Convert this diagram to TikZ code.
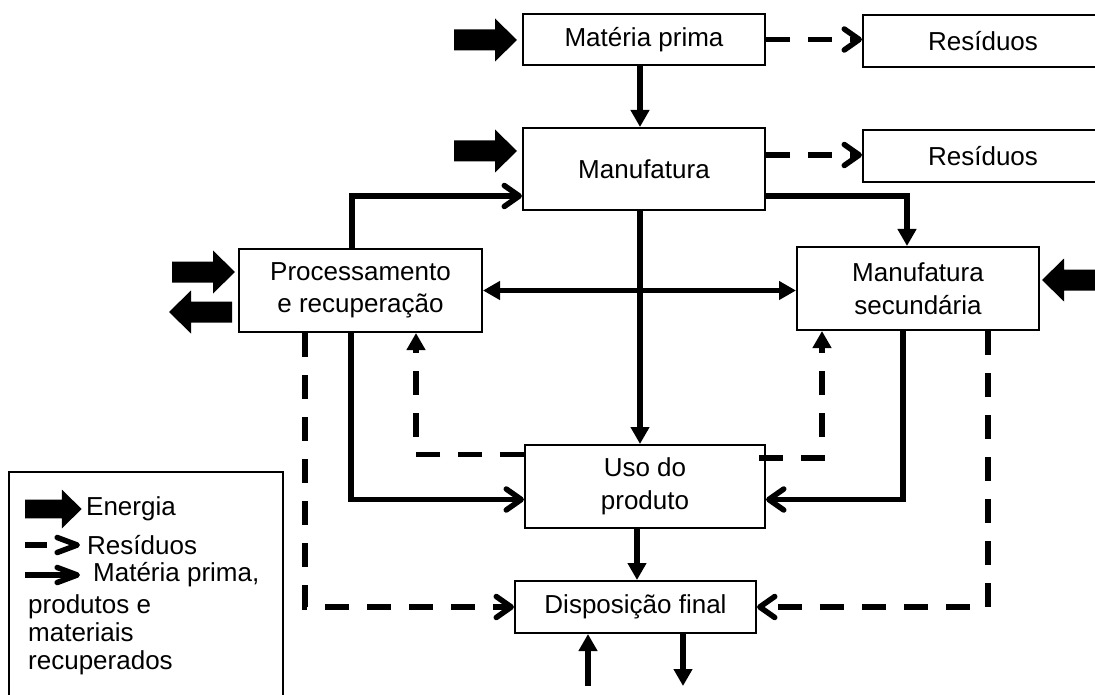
\documentclass[tikz,border=0pt]{standalone}
\usepackage{fontspec}
\setmainfont{Liberation Sans}
\usetikzlibrary{arrows.meta}

\tikzset{
  box/.style={draw, line width=2pt, fill=white, align=center, inner sep=0pt,
    font=\fontsize{26}{32.5}\selectfont},
  flow/.style={line width=5.5pt},
  waste/.style={line width=5.5pt, dash pattern=on 24pt off 18pt},
  tri/.tip={Triangle[length=17pt,width=18pt]},
  barb/.tip={Straight Barb[length=15pt,width=21pt,round]},
  legbarb/.tip={Straight Barb[length=20pt,width=15pt,round]},
  legtext/.style={inner sep=0pt, align=left, font=\fontsize{26}{28}\selectfont},
  pics/energia/.style={code={
    \fill (0,-10.5) -- (41,-10.5) -- (41,-21.5) -- (63,0) -- (41,21.5)
          -- (41,10.5) -- (0,10.5) -- cycle;
  }}
}

\begin{document}
\begin{tikzpicture}[x=1pt,y=-1pt]
\useasboundingbox (0,0) rectangle (1095,695);
\clip (0,0) rectangle (1095,695);

% process boxes
\node[box, minimum width=242pt, minimum height=51pt] (mp)   at (644,39.5)  {Matéria prima};
\node[box, minimum width=242pt, minimum height=82pt] (manu) at (644,169)   {Manufatura};
\node[box, minimum width=240pt, minimum height=52pt] (res1) at (983,41)    {Resíduos};
\node[box, minimum width=240pt, minimum height=52pt] (res2) at (983,156)   {Resíduos};
\node[box, minimum width=243pt, minimum height=83pt] (proc) at (360.5,290.5) {Processamento\\e recuperação};
\node[box, minimum width=242pt, minimum height=83pt] (msec) at (918,288.5) {Manufatura\\secundária};
\node[box, minimum width=240pt, minimum height=83pt] (uso)  at (645,486.5) {Uso do\\produto};
\node[box, minimum width=241pt, minimum height=52pt] (disp) at (635.5,607) {Disposição final};

% energy inputs and outputs
\pic at (454,40) {energia};
\pic at (454,151) {energia};
\pic at (172,272) {energia};
\pic[rotate=180] at (232,312) {energia};
\pic[rotate=180] at (1105,280) {energia};

% material flows
\draw[flow, -tri] ([xshift=-4pt]mp.south) -- ([xshift=-4pt]mp.south |- manu.north);
\draw[flow, -barb] ([xshift=-8.5pt]proc.north) |- ([yshift=-27pt]manu.west);
\draw[flow, -tri] ([yshift=-27pt]manu.east) -| ([xshift=-11pt]msec.north);
\draw[flow, tri-tri] (proc.east) -- (proc.east -| msec.west);
\draw[flow, -tri] ([xshift=-4pt]manu.south) -- ([xshift=-4pt]manu.south |- uso.north);
\draw[flow, -barb] ([xshift=-9.5pt]proc.south) |- ([yshift=-13pt]uso.west);
\draw[flow, -barb] ([xshift=-15pt]msec.south) |- ([yshift=-13pt]uso.east);
\draw[flow, -tri] ([xshift=-8pt]uso.south) -- ([xshift=-8pt]uso.south |- disp.north);

\coordinate (entra) at (588,686);
\coordinate (sai)   at (683,686);
\draw[flow, -tri] (entra) -- (entra |- disp.south);
\draw[flow, -tri] (sai |- disp.south) -- (sai);

% waste flows
\draw[waste, -barb] (mp.east) -- (mp.east -| res1.west);
\draw[waste, -barb] ([yshift=14pt]manu.east) -- ([yshift=14pt]manu.east -| res2.west);
\draw[waste, -tri] ([yshift=32pt]uso.west) -| ([xshift=55.5pt]proc.south);
\draw[waste, -tri] ([xshift=-7pt,yshift=28.5pt]uso.east) -| ([xshift=-96pt]msec.south);
\draw[waste, -barb] ([xshift=-55.5pt]proc.south) |- (disp.west);
\draw[waste, -barb] ([xshift=70pt]msec.south) |- (disp.east);

% legend
\draw[line width=1.5pt] (9,705) -- (9,472) -- (283,472) -- (283,705);
\pic[scale=0.9] at (25,509) {energia};
\node[legtext, anchor=west] (lgE) at (86,509) {Energia};
\coordinate (lgR0) at (25,545);
\coordinate (lgR1) at (80,545);
\draw[line width=5.5pt, dash pattern=on 22pt off 40pt, -legbarb] (lgR0) -- (lgR1);
\node[legtext, anchor=west] (lgR) at (87,545) {Resíduos};
\coordinate (lgM0) at (25,575);
\coordinate (lgM1) at (80,575);
\draw[line width=5.5pt, -legbarb] (lgM0) -- (lgM1);
\node[legtext, anchor=west] (lgM) at (93,575) {Matéria prima,};
\node[legtext, anchor=north west] (lgM2) at (28,594) {produtos e\\materiais\\recuperados};
\end{tikzpicture}
\end{document}
